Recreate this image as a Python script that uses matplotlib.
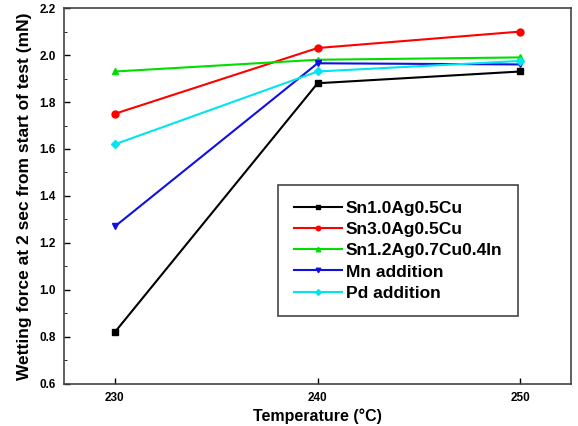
import numpy as np
import matplotlib.pyplot as plt

plt.rcParams['font.family'] = ['Liberation Sans', 'DejaVu Sans']
plt.rcParams['font.weight'] = 'bold'

temps = [230, 240, 250]
sn10 = [0.82, 1.88, 1.93]
sn30 = [1.75, 2.03, 2.10]
sn12 = [1.93, 1.98, 1.99]
mn_add = [1.27, 1.965, 1.96]
pd_add = [1.62, 1.93, 1.975]

labels = ['Sn1.0Ag0.5Cu', 'Sn3.0Ag0.5Cu', 'Sn1.2Ag0.7Cu0.4In', 'Mn addition', 'Pd addition']
colors = ['black', 'red', '#00dd00', '#1010e0', '#00e5ee']
markers = ['s', 'o', '^', 'v', 'D']
series = [sn10, sn30, sn12, mn_add, pd_add]

fig = plt.figure(figsize=(5.78, 4.26), dpi=100)
ax = fig.add_axes([0.111, 0.099, 0.877, 0.882])

for y, lab, c, m in zip(series, labels, colors, markers):
    ax.plot(temps, y, color=c, marker=m, markersize=5 if m != 'D' else 4.5,
            linewidth=1.5, label=lab)

ax.set_xlim(227.5, 252.5)
ax.set_ylim(0.6, 2.2)
ax.set_xticks(temps)
ax.set_yticks(np.arange(0.6, 2.21, 0.2))
ax.set_yticklabels(['%.1f' % v for v in np.arange(0.6, 2.21, 0.2)])
ax.set_yticks(np.arange(0.7, 2.2, 0.2), minor=True)
ax.tick_params(direction='in', labelsize=8.5, length=4, width=1, pad=6)
ax.tick_params(which='minor', direction='in', length=2.5)
for s in ax.spines.values():
    s.set_linewidth(1.2)
    s.set_color('#444444')

ax.set_xlabel('Temperature (\u00b0C)', fontsize=11.5, fontweight='bold', labelpad=3)
ax.set_ylabel('Wetting force at 2 sec from start of test (mN)', fontsize=12.5,
              fontweight='bold', labelpad=5)

leg = ax.legend(loc='upper left', bbox_to_anchor=(0.422, 0.529), borderaxespad=0,
                fontsize=12.5, fancybox=False, edgecolor='#444444', framealpha=1,
                markerscale=0.65, handlelength=2.8, borderpad=0.9, labelspacing=0.35,
                handletextpad=0.2)
leg.get_frame().set_linewidth(1.2)

fig.savefig('out.png', dpi=100)
